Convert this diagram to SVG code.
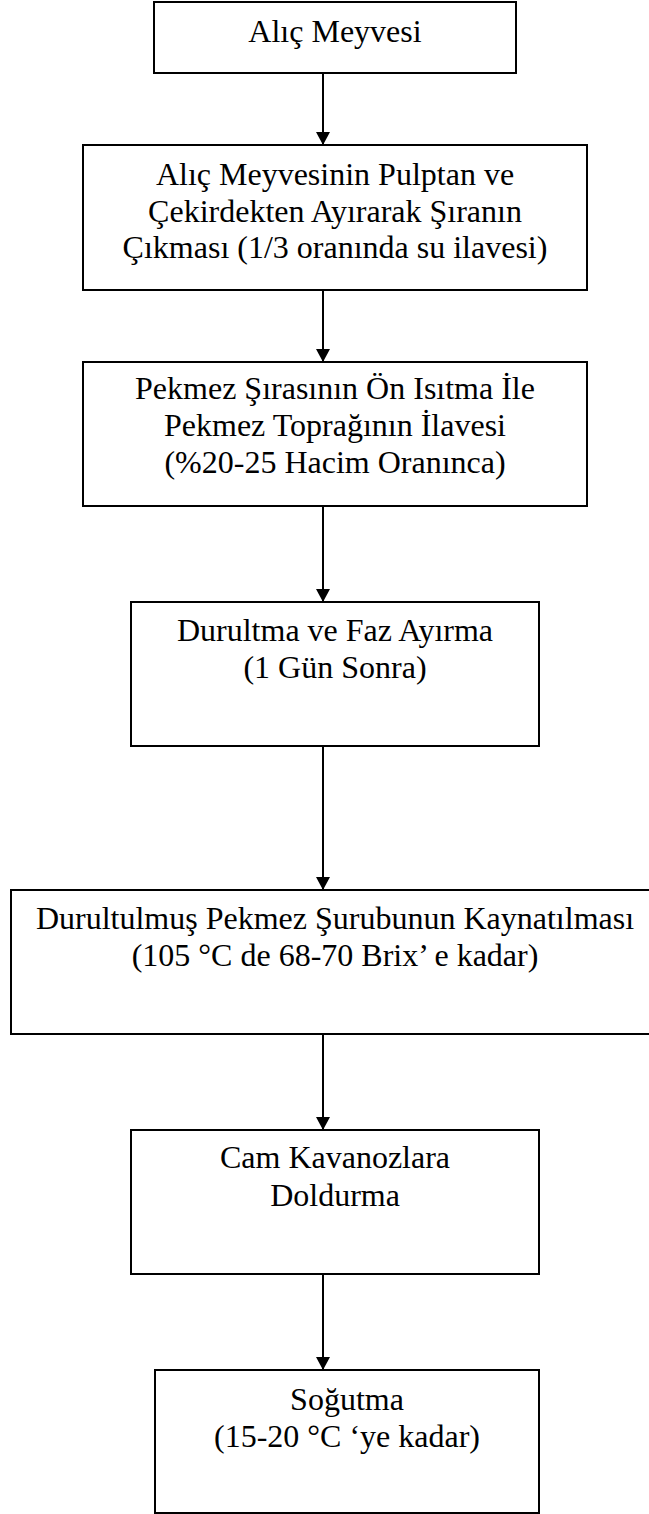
<svg xmlns="http://www.w3.org/2000/svg" width="649" height="1514" viewBox="0 0 649 1514">
<style>
.box{fill:#fff;stroke:#000;stroke-width:2}
.lbl{font-family:"Liberation Serif","Times New Roman",serif;font-size:32px;fill:#000;text-anchor:middle}
.conn{stroke:#000;stroke-width:2;fill:none;marker-end:url(#arr)}
</style>
<defs>
<marker id="arr" markerUnits="userSpaceOnUse" markerWidth="13" markerHeight="14" viewBox="0 0 13 14" refX="13" refY="7" orient="auto">
<path d="M0,0 L13,7 L0,14 z" fill="#000"/>
</marker>
</defs>
<rect width="649" height="1514" fill="#fff"/>
<g id="connectors">
<line class="conn" x1="323" y1="73" x2="323" y2="145"/>
<line class="conn" x1="323" y1="290" x2="323" y2="362"/>
<line class="conn" x1="323" y1="506" x2="323" y2="602"/>
<line class="conn" x1="323" y1="746" x2="323" y2="890"/>
<line class="conn" x1="323" y1="1034" x2="323" y2="1130"/>
<line class="conn" x1="323" y1="1274" x2="323" y2="1370"/>
</g>
<g id="n1">
<rect class="box" x="154" y="2" width="362" height="71"/>
<text class="lbl" x="335" y="42">Alıç Meyvesi</text>
</g>
<g id="n2">
<rect class="box" x="83" y="145" width="504" height="145"/>
<text class="lbl" x="335" y="185">Alıç Meyvesinin Pulptan ve</text>
<text class="lbl" x="335" y="222">Çekirdekten Ayırarak Şıranın</text>
<text class="lbl" x="335" y="258">Çıkması (1/3 oranında su ilavesi)</text>
</g>
<g id="n3">
<rect class="box" x="83" y="362" width="504" height="144"/>
<text class="lbl" x="335" y="399">Pekmez Şırasının Ön Isıtma İle</text>
<text class="lbl" x="335" y="436">Pekmez Toprağının İlavesi</text>
<text class="lbl" x="335" y="473">(%20-25 Hacim Oranınca)</text>
</g>
<g id="n4">
<rect class="box" x="131" y="602" width="408" height="144"/>
<text class="lbl" x="335" y="641">Durultma ve Faz Ayırma</text>
<text class="lbl" x="335" y="678">(1 Gün Sonra)</text>
</g>
<g id="n5">
<rect class="box" x="11" y="890" width="649" height="144"/>
<text class="lbl" x="335" y="929">Durultulmuş Pekmez Şurubunun Kaynatılması</text>
<text class="lbl" x="335" y="966">(105 °C de 68-70 Brix’ e kadar)</text>
</g>
<g id="n6">
<rect class="box" x="131" y="1130" width="408" height="144"/>
<text class="lbl" x="335" y="1168">Cam Kavanozlara</text>
<text class="lbl" x="335" y="1206">Doldurma</text>
</g>
<g id="n7">
<rect class="box" x="155" y="1370" width="384" height="143"/>
<text class="lbl" x="347" y="1410">Soğutma</text>
<text class="lbl" x="347" y="1447">(15-20 °C ‘ye kadar)</text>
</g>
</svg>
